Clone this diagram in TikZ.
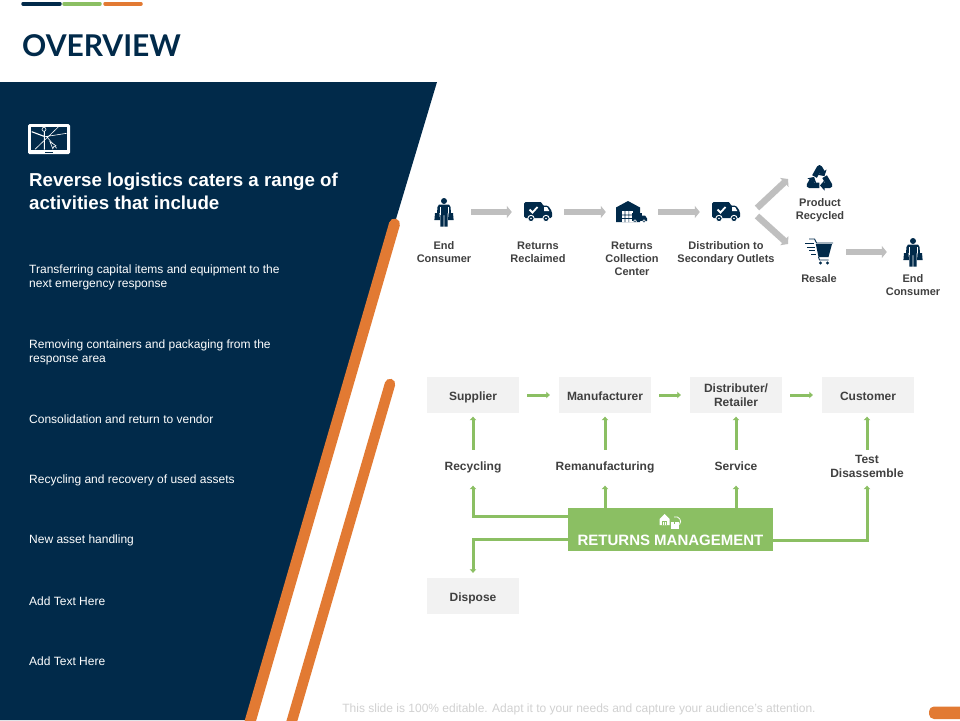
\documentclass[tikz,border=0pt]{standalone}
\usepackage{fontspec}
\setmainfont{Liberation Sans}
\newfontfamily\titlefont{Lato}
\usetikzlibrary{arrows.meta,calc}
\definecolor{navy}{HTML}{012A4A}
\definecolor{orng}{HTML}{E27A33}
\definecolor{grn}{HTML}{8BBF63}
\definecolor{graya}{HTML}{BFBFBF}
\definecolor{boxg}{HTML}{F2F2F2}
\definecolor{lbl}{HTML}{404040}
\tikzset{
  x=1pt,y=-1pt,
  flowlabel/.style={font=\fontsize{11}{13}\selectfont\bfseries,text=lbl,align=center,inner sep=0pt},
  sidetext/.style={font=\fontsize{12}{14}\selectfont,text=white,align=left,anchor=west,inner sep=0pt},
  iconbox/.style={minimum width=52pt,minimum height=24pt,inner sep=0pt},
  grayarrow/.style={draw=graya,line width=6.5pt,-{Triangle[length=5pt,width=12pt]}},
  greenarrow/.style={draw=grn,line width=3pt,-{Triangle[length=3.5pt,width=6.5pt]}},
  stagebox/.style={fill=boxg,minimum width=92pt,minimum height=36pt,inner sep=0pt,
     font=\fontsize{12}{14}\selectfont\bfseries,text=lbl,align=center},
  steplabel/.style={font=\fontsize{12}{14}\selectfont\bfseries,text=lbl,align=center,inner sep=0pt,minimum height=32pt},
  oneline/.style={text height=10pt,text depth=0pt},
  onestep/.style={text height=8.8pt,text depth=0pt},
  person/.pic={
    \fill[navy] (0,-11) circle (3);
    \fill[navy] (-5,-7.5) -- (5,-7.5) -- (6.5,-5) -- (7,1) -- (3.6,1) -- (3.6,14.5) -- (0.4,14.5) -- (0.4,3) -- (-0.4,3) -- (-0.4,14.5) -- (-3.6,14.5) -- (-3.6,1) -- (-7,1) -- (-6.5,-5) -- cycle;
    \draw[white,line width=.7pt] (-4,-5) -- (-4,3) (4,-5) -- (4,3);
    \fill[navy] (-9,1) -- (-4.6,1) -- (-4,8) -- (-9.6,8) -- cycle (9,1) -- (4.6,1) -- (4,8) -- (9.6,8) -- cycle;
  },
  truck/.pic={
    \fill[navy,rounded corners=1.5pt] (-14,-10) -- (4,-10) -- (4,-6.5) -- (10,-6.5) -- (14,-0.5) -- (14,6) -- (-14,6) -- cycle;
    \fill[white] (6,-4.8) -- (9.2,-4.8) -- (11.3,-1) -- (6,-1) -- cycle;
    \draw[white,line width=1.8pt] (-8.5,-2.5) -- (-5.5,0.5) -- (-0.5,-5);
    \filldraw[navy,draw=white,line width=.9pt] (-7,6.5) circle (3.2) (8,6.5) circle (3.2);
    \fill[white] (-7,6.5) circle (.9) (8,6.5) circle (.9);
  },
  warehouse/.pic={
    \fill[navy] (-16,-4.5) -- (-4,-11) -- (8,-4.5) -- (8,10) -- (-16,10) -- cycle;
    \fill[white] (-10,-1) rectangle (1,10);
    \fill[navy] (-7.3,-1) rectangle (-6.6,10) (-3.5,-1) rectangle (-2.8,10) (-10,2.6) rectangle (1,3.3) (-10,6.2) rectangle (1,6.9);
    \fill[navy] (0,1) rectangle (9.5,9);
    \fill[white] (9.5,1) rectangle (10.2,9.5);
    \fill[navy] (10.2,3.5) -- (13,3.5) -- (15,6.5) -- (15,9) -- (10.2,9) -- cycle;
    \filldraw[navy,draw=white,line width=.5pt] (3,9.3) circle (1.5) (12,9.3) circle (1.5);
  },
  recycle/.pic={
    \foreach \r in {0,120,240}{
      \begin{scope}[rotate=\r]
        \draw[navy,line width=5.4pt,line join=round,-{Triangle[length=4.5pt,width=10pt]}] (-5,-3) -- (0,-11.8) -- (4.9,-3.4);
      \end{scope}}
  },
  cart/.pic={
    \draw[navy,line width=.9pt] (-10,-13) -- (-4.5,-13) -- (-2.5,-9) -- (14,-9);
    \fill[navy] (-3.2,-8) -- (13,-8) -- (9.5,5) -- (-.5,5) -- cycle;
    \draw[navy,line width=.9pt] (-.5,5) -- (0.5,8) -- (9.5,8);
    \fill[navy] (1.5,11) circle (1.6) (8.5,11) circle (1.6);
    \draw[navy,line width=.9pt] (-14,-8.5) -- (-5,-8.5) (-12,-5) -- (-4.5,-5) (-10,-1.5) -- (-3.8,-1.5) (-8,2) -- (-2.8,2);
  },
  roadmap/.pic={
    \fill[white,rounded corners=1.5pt] (-21,-15) rectangle (21,15);
    \fill[navy] (-18,-12) rectangle (18,10.5);
    \draw[white,line width=.6pt] (9.3,-12) -- (-14,10.3) (-4,-2.3) -- (17.7,-5.7) (-2.3,-2.3) -- (7.7,9.3);
    \draw[white,line width=1.1pt] (-17.3,-7.3) -- (-4,-2.3) (-4.7,-10.7) -- (-4.7,10.5);
    \filldraw[navy,draw=white,line width=.6pt] (-5,-9.7) circle (2);
    \filldraw[navy,draw=white,line width=.6pt] (1,2.7) -- (7,6.8) -- (4.8,7.5) -- (3.8,9.8) -- cycle;
    \draw[navy,line width=.5pt] (-4,13) -- (4,13);
  },
  returnsicon/.pic={
    \fill[white] (-10.5,-2) -- (-5.5,-7) -- (-0.5,-2) -- (-0.5,4) -- (-10.5,4) -- cycle;
    \fill[grn] (-8,0) rectangle (-3,4);
    \fill[white] (-7,1) rectangle (-6,4) (-5,1) rectangle (-4,4);
    \fill[white] (0.5,0.5) rectangle (8.5,7.5);
    \fill[grn] (4,.5) rectangle (4.8,3);
    \draw[white,line width=.8pt] (4,-4) .. controls (9,-5.5) and (12.5,0) .. (9.5,3.5);
  }
}
\begin{document}
\begin{tikzpicture}
\useasboundingbox (0,0) rectangle (960,720);
\fill[white] (0,0) rectangle (960,720);
% top bars
\draw[navy,line width=3.5pt,line cap=round] (23,3.8) -- (60,3.8);
\draw[grn,line width=3.5pt,line cap=round] (64,3.8) -- (100,3.8);
\draw[orng,line width=3.5pt,line cap=round] (105,3.8) -- (141,3.8);
\node[anchor=west,inner sep=0pt,text=navy,font=\titlefont\fontsize{30}{32}\selectfont\bfseries] (title) at (22,45.5) {OVERVIEW};
% panel
\fill[navy] (0,82) -- (437,82) -- (246,720) -- (0,720) -- cycle;
\begin{scope}
\clip (0,0) rectangle (960,720);
\draw[orng,line width=11pt,line cap=round] (394.5,224) -- (250,722);
\draw[orng,line width=10.5pt,line cap=round] (390,384) -- (291,724);
\end{scope}
\pic at (49,139) {roadmap};
\node[sidetext,font=\fontsize{18.7}{23}\selectfont\bfseries] (head) at (29,191.5) {Reverse logistics caters a range of\\activities that include};
\node[sidetext] (t1) at (29,277.8) {Transferring capital items and equipment to the\\next emergency response};
\node[sidetext] (t2) at (29,352.8) {Removing containers and packaging from the\\response area};
\node[sidetext] (t3) at (29,419) {Consolidation and return to vendor};
\node[sidetext] (t4) at (29,480.8) {Recycling and recovery of used assets};
\node[sidetext] (t5) at (29,540.8) {New asset handling};
\node[sidetext] (t6) at (29,601) {Add Text Here};
\node[sidetext] (t7) at (29,661) {Add Text Here};
% upper flow
\node[iconbox] (i1) at (445,212) {};
\node[iconbox] (i2) at (538,212) {};
\node[iconbox] (i3) at (632,212) {};
\node[iconbox] (i4) at (726,212) {};
\node[iconbox,minimum width=54pt] (i5) at (819,252) {};
\node[iconbox,minimum width=52pt] (i6) at (913,252) {};
\coordinate (upS) at (757,208);
\coordinate (upE) at (788,179);
\coordinate (dnS) at (757,216);
\coordinate (dnE) at (788,244);
\pic at (444,212) {person};
\pic at (538,212) {truck};
\pic at (632,212) {warehouse};
\pic at (726,212) {truck};
\pic at (819.5,179.5) {recycle};
\pic at (819,252) {cart};
\pic at (913,252) {person};
\draw[grayarrow] (i1) -- (i2);
\draw[grayarrow] (i2) -- (i3);
\draw[grayarrow] (i3) -- (i4);
\draw[grayarrow] (upS) -- (upE);
\draw[grayarrow] (dnS) -- (dnE);
\draw[grayarrow] (i5) -- (i6);
\node[flowlabel] (l1) at (444,252.5) {End\\Consumer};
\node[flowlabel] (l2) at (538,252.5) {Returns\\Reclaimed};
\node[flowlabel] (l3) at (632,259) {Returns\\Collection\\Center};
\node[flowlabel] (l4) at (726,253) {Distribution to\\Secondary Outlets};
\node[flowlabel] (l5) at (820,210) {Product\\Recycled};
\node[flowlabel] (l6) at (819,279) {Resale};
\node[flowlabel] (l7) at (913,285.5) {End\\Consumer};
% lower flow
\node[stagebox,oneline] (sup) at (473,395) {Supplier};
\node[stagebox,oneline] (man) at (605,395) {Manufacturer};
\node[stagebox] (dis) at (736,395) {Distributer/\\Retailer};
\node[stagebox,oneline] (cus) at (868,395) {Customer};
\node[stagebox,oneline] (dsp) at (473,596) {Dispose};
\node[steplabel,onestep] (rec) at (473,466) {Recycling};
\node[steplabel,onestep] (rem) at (605,466) {Remanufacturing};
\node[steplabel,onestep] (ser) at (736,466) {Service};
\node[steplabel] (tst) at (867,466) {Test\\Disassemble};
\node[fill=grn,minimum width=205pt,minimum height=43pt,inner sep=0pt] (ret) at (670.5,529.5) {};
\node[inner sep=0pt,text=white,font=\fontsize{15}{16}\selectfont\bfseries] (rett) at (670.5,540) {RETURNS MANAGEMENT};
\pic at (670,521) {returnsicon};
\draw[greenarrow,shorten <=8pt,shorten >=9pt] (sup) -- (man);
\draw[greenarrow,shorten <=8pt,shorten >=9pt] (man) -- (dis);
\draw[greenarrow,shorten <=8pt,shorten >=9pt] (dis) -- (cus);
\draw[greenarrow,shorten >=3.5pt] (rec.north) -- (sup.south);
\draw[greenarrow,shorten >=3.5pt] (rem.north) -- (man.south);
\draw[greenarrow,shorten >=3.5pt] (ser.north) -- (dis.south);
\draw[greenarrow,shorten >=3.5pt] (tst.north) -- (tst.north |- cus.south);
\draw[greenarrow,shorten >=3.5pt] ([yshift=-9pt]ret.north west) -| (rec.south);
\draw[greenarrow,shorten >=3.5pt] (ret.north -| rem) -- (rem.south);
\draw[greenarrow,shorten >=3.5pt] (ret.north -| ser) -- (ser.south);
\draw[greenarrow,shorten >=3.5pt] ([yshift=11pt]ret.south east) -| (tst.south);
\draw[greenarrow,shorten >=5pt] ([yshift=12pt]ret.south west) -| (dsp.north);
% footer
\node[inner sep=0pt,text=black!18,font=\fontsize{12}{14}\selectfont] (foot) at (579,709.5) {This slide is 100\% editable. Adapt it to your needs and capture your audience's attention.};
\fill[orng,rounded corners=5pt] (929,706.5) -- (975,706.5) -- (975,719) -- (929,719) -- cycle;
\end{tikzpicture}
\end{document}
